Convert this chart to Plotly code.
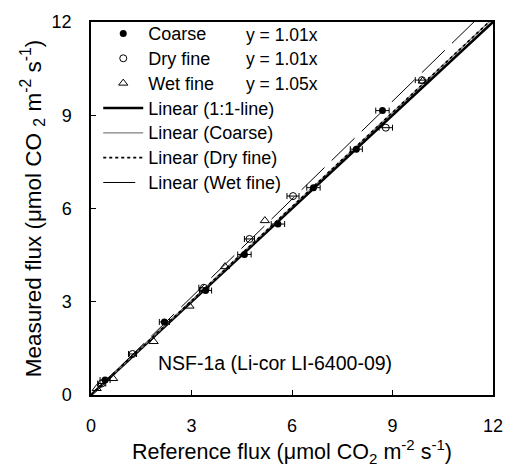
import plotly.graph_objects as go

# Chamber flux validation: measured vs reference CO2 flux
coarse_ref = [0.42, 2.19, 3.42, 4.58, 5.58, 6.64, 7.92, 8.70]
coarse_meas = [0.48, 2.35, 3.36, 4.52, 5.50, 6.67, 7.91, 9.15]
coarse_err = [0.15, 0.15, 0.18, 0.2, 0.2, 0.2, 0.18, 0.2]

dry_ref = [0.32, 1.24, 3.37, 4.73, 6.03, 8.80, 9.88]
dry_meas = [0.37, 1.32, 3.45, 5.02, 6.40, 8.60, 10.13]
dry_err = [0.12, 0.12, 0.15, 0.15, 0.18, 0.2, 0.2]

wet_ref = [0.17, 0.66, 1.87, 2.94, 4.00, 5.19, 9.90]
wet_meas = [0.21, 0.53, 1.72, 2.86, 4.13, 5.61, 10.10]

slope_coarse = 1.01
slope_dry = 1.01
slope_wet = 1.05

fit_x = [0, 12]

FONT = "Liberation Sans, Arial, sans-serif"


def big(label):
    # legend rows keep a compact height while the label is drawn larger
    return f'<span style="font-size:18px">{label}</span>'


fig = go.Figure()

# regression lines
fig.add_trace(go.Scatter(x=fit_x, y=[v * 1.0 for v in fit_x], mode="lines",
                         name=big("Linear (1:1-line)"), line=dict(color="black", width=2.6),
                         legendrank=4))
fig.add_trace(go.Scatter(x=fit_x, y=[v * slope_coarse for v in fit_x], mode="lines",
                         name=big("Linear (Coarse)"), line=dict(color="#808080", width=1.2),
                         legendrank=5))
fig.add_trace(go.Scatter(x=fit_x, y=[v * slope_dry for v in fit_x], mode="lines",
                         name=big("Linear (Dry fine)"), line=dict(color="black", width=1.6, dash="dot"),
                         legendrank=6))
fig.add_trace(go.Scatter(x=fit_x, y=[v * slope_wet for v in fit_x], mode="lines",
                         name=big("Linear (Wet fine)"), line=dict(color="black", width=1, dash="32px,10px"),
                         legendrank=7))

# measurements
fig.add_trace(go.Scatter(x=coarse_ref, y=coarse_meas, mode="markers", name=big("Coarse"),
                         marker=dict(symbol="circle", size=7, color="black"),
                         error_x=dict(type="data", array=coarse_err, color="black", thickness=1, width=3),
                         legendrank=1))
fig.add_trace(go.Scatter(x=dry_ref, y=dry_meas, mode="markers", name=big("Dry fine"),
                         marker=dict(symbol="circle-open", size=7, color="black", line=dict(width=1)),
                         error_x=dict(type="data", array=dry_err, color="black", thickness=1, width=3),
                         legendrank=2))
fig.add_trace(go.Scatter(x=wet_ref, y=wet_meas, mode="markers", name=big("Wet fine"),
                         marker=dict(symbol="triangle-up-open", size=8, color="black", line=dict(width=1)),
                         legendrank=3))

# fitted equations beside legend entries
eq_y = [11.59, 10.81, 10.02]
for yy, s in zip(eq_y, [slope_coarse, slope_dry, slope_wet]):
    fig.add_annotation(x=4.57, y=yy, xref="x", yref="y", text=f"y = {s:.2f}x",
                       showarrow=False, xanchor="left", yanchor="middle",
                       font=dict(family=FONT, size=17.5, color="black"))

fig.add_annotation(x=1.93, y=1.02, xref="x", yref="y", text="NSF-1a (Li-cor LI-6400-09)",
                   showarrow=False, xanchor="left", yanchor="middle",
                   font=dict(family=FONT, size=19.5, color="black"))

axis_common = dict(range=[0, 12], tickvals=[0, 3, 6, 9, 12], showgrid=False, zeroline=False,
                   showline=True, linecolor="black", linewidth=1.5, mirror=True,
                   ticks="inside", ticklen=5, tickcolor="black", tickwidth=1,
                   tickfont=dict(family=FONT, size=18, color="black"))

fig.update_layout(
    width=515, height=475,
    margin=dict(l=91, r=12, t=17, b=80),
    paper_bgcolor="white", plot_bgcolor="white",
    font=dict(family=FONT, color="black"),
    xaxis=dict(**axis_common, ticklabelstandoff=14,
               title=dict(text="Reference flux (\u03bcmol CO<sub>2</sub> m<sup>-2</sup> s<sup>-1</sup>)",
                          font=dict(family=FONT, size=21.5), standoff=4)),
    yaxis=dict(**axis_common, ticklabelstandoff=14,
               title=dict(text="Measured flux (\u03bcmol CO <sub>2</sub> m<sup>-2</sup> s<sup>-1</sup>)",
                          font=dict(family=FONT, size=22.5), standoff=4)),
    legend=dict(x=0.018, y=1.016, xanchor="left", yanchor="top", bgcolor="rgba(0,0,0,0)",
                font=dict(family=FONT, size=16.8, color="black"), itemwidth=40,
                tracegroupgap=0),
    showlegend=True,
)

fig.write_html("out.html")
